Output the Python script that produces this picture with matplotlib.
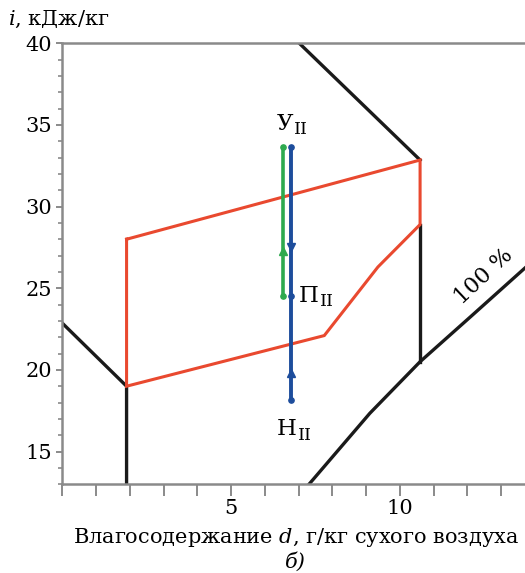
import matplotlib.pyplot as plt
import numpy as np

plt.rcParams['font.family'] = ['DejaVu Serif']
plt.rcParams['mathtext.fontset'] = 'dejavuserif'

# границы зоны (красный контур): d, г/кг и i, кДж/кг
zone_d = [1.9, 10.6, 10.6, 9.35, 7.76, 1.9, 1.9]
zone_i = [28.0, 32.85, 28.9, 26.3, 22.1, 19.0, 28.0]

# черные ограничивающие линии
left_d = [0.0, 1.9, 1.9]
left_i = [22.85, 19.0, 13.0]
top_d = [7.02, 10.6]
top_i = [40.0, 32.85]
right_d = [10.6, 10.6]
right_i = [28.9, 20.5]

# кривая насыщения 100 %
sat_d = [7.31, 9.11, 10.6, 12.1, 13.85]
sat_i = [13.0, 17.34, 20.5, 23.26, 26.5]

# процессы: П -> У (зеленый) и Н -> У (синий)
green_d = [6.53, 6.53]
green_i = [24.5, 33.63]
blue_d = [6.78, 6.78, 6.78]
blue_i = [18.15, 24.5, 33.63]

# подписи точек: d, i (базовая линия), буква
points = [(6.36, 34.69, 'У'), (7.01, 24.18, 'П'), (6.36, 16.01, 'Н')]


def point_label(ax, x, y, letter, sub='II'):
    t = ax.text(x, y, letter, fontsize=16.5, ha='left', va='baseline')
    ax.annotate(sub, xy=(1, 0), xycoords=t, xytext=(0.5, -2.5),
                textcoords='offset points', fontsize=12.5,
                ha='left', va='bottom')


fig = plt.figure(figsize=(5.25, 5.73), dpi=100)
ax = fig.add_axes([0.119, 0.155, 0.89, 0.7695])

ax.plot(left_d, left_i, color='#1a1a1a', lw=2.4, solid_joinstyle='miter')
ax.plot(top_d, top_i, color='#1a1a1a', lw=2.4)
ax.plot(right_d, right_i, color='#1a1a1a', lw=2.4)
ax.plot(sat_d, sat_i, color='#1a1a1a', lw=2.4)
ax.plot(zone_d, zone_i, color='#e9492f', lw=2.2, solid_joinstyle='miter')

ax.plot(green_d, green_i, color='#2eaa4f', lw=2.6, marker='o', ms=3.8,
        mfc='#2eaa4f', mec='#2eaa4f')
ax.plot(blue_d, blue_i, color='#1d4d9c', lw=2.8, marker='o', ms=3.8,
        mfc='#1d4d9c', mec='#1d4d9c')

# стрелки направления
ax.plot(green_d[0], 27.3, marker='^', ms=6, color='#2eaa4f')
ax.plot(blue_d[0], 27.5, marker='v', ms=6, color='#1d4d9c')
ax.plot(blue_d[0], 19.8, marker='^', ms=6, color='#1d4d9c')

for x, y, letter in points:
    point_label(ax, x, y, letter)

ax.text(12.5, 25.75, '100 %', fontsize=16, rotation=43, ha='center', va='center')

ax.set_xlim(0, 13.85)
ax.set_ylim(13, 40)
ax.set_xticks([5, 10])
ax.set_xticks(np.arange(0, 14), minor=True)
ax.set_yticks([15, 20, 25, 30, 35, 40])
ax.set_yticks(np.arange(13, 41), minor=True)

ax.spines['right'].set_visible(False)
for s in ['left', 'bottom', 'top']:
    ax.spines[s].set_color('#8a8a8a')
    ax.spines[s].set_linewidth(1.8)

ax.tick_params(axis='x', which='both', direction='out', length=8.5, width=1.4,
               color='#8a8a8a', labelsize=15, pad=2)
ax.tick_params(axis='y', which='major', direction='out', length=4.5, width=1.4,
               color='#8a8a8a', labelsize=15, pad=3)
ax.tick_params(axis='y', which='minor', direction='out', length=3, width=1.2,
               color='#8a8a8a')

ax.set_xlabel('Влагосодержание $d$, г/кг сухого воздуха', fontsize=15, labelpad=6)
fig.text(0.015, 0.967, '$i$, кДж/кг', fontsize=15, ha='left', va='center')
fig.text(0.563, 0.019, 'б)', fontsize=15, style='italic', ha='center', va='center')

plt.savefig('out.png', dpi=100)
